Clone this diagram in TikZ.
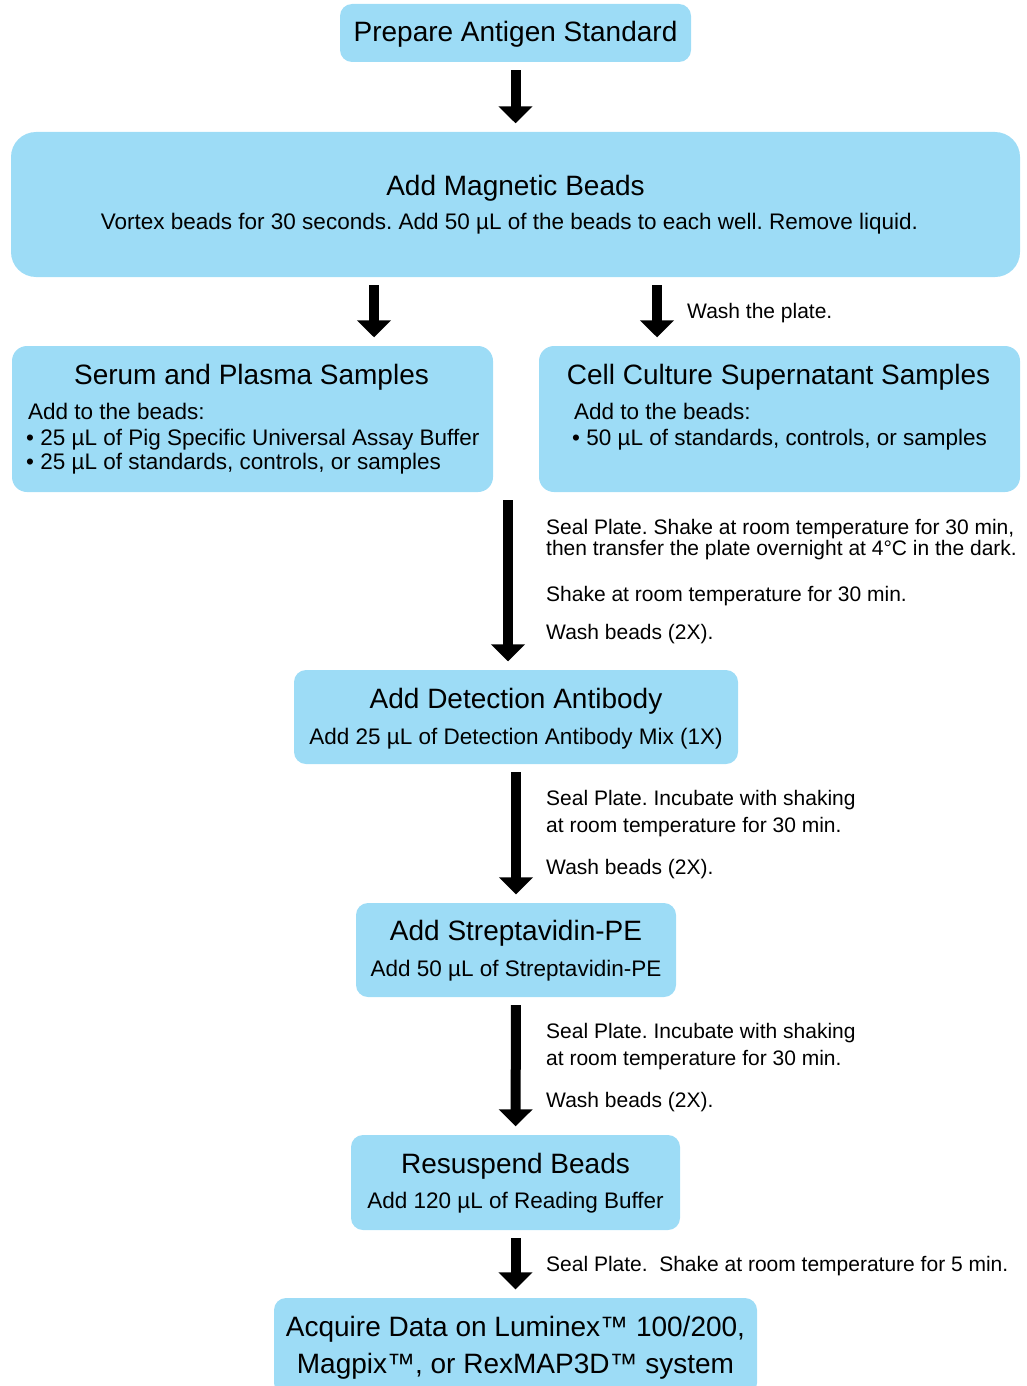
\documentclass[tikz,border=0pt]{standalone}
\usepackage{fontspec}
\setmainfont{Liberation Sans}
\usetikzlibrary{arrows.meta}
\definecolor{boxblue}{HTML}{9DDCF6}
\frenchspacing

\begin{document}
\begin{tikzpicture}[x=1pt,y=-1pt]
   \tikzset{stepbox/.style={fill=boxblue, rounded corners=12pt, inner sep=0pt}}
   \tikzset{flow/.style={line width=10pt, -{Triangle[length=17pt,width=33pt]}, shorten <=8pt, shorten >=8.5pt}}
   \tikzset{head/.style={font=\fontsize{28}{30}\selectfont, anchor=base, inner sep=0pt, yshift=-1pt}}
   \tikzset{body/.style={font=\fontsize{22.5}{25}\selectfont, anchor=base, inner sep=0pt, yshift=-1pt}}
   \tikzset{side/.style={font=\fontsize{21}{23}\selectfont, anchor=base west, inner sep=0pt, yshift=-1pt}}
   \clip (0,0) rectangle (1026,1386);
   \node[stepbox, minimum width=351pt, minimum height=58pt] (std) at (515.5,33) {};
   \node[stepbox, minimum width=1009pt, minimum height=145pt, rounded corners=25pt] (beads) at (515.5,204.5) {};
   \node[stepbox, minimum width=481pt, minimum height=146pt, rounded corners=15pt] (serum) at (252.5,419) {};
   \node[stepbox, minimum width=481pt, minimum height=146pt, rounded corners=15pt] (cell) at (779.5,419) {};
   \node[stepbox, minimum width=444pt, minimum height=94pt] (detect) at (516,717) {};
   \node[stepbox, minimum width=320pt, minimum height=94pt] (strep) at (516,950) {};
   \node[stepbox, minimum width=329pt, minimum height=95pt] (resus) at (515.5,1182.5) {};
   \node[stepbox, minimum width=483pt, minimum height=97pt] (acq) at (515.5,1346.5) {};
   \node[head] (std-t) at (515.5,41) {Prepare Antigen Standard};
   \node[head] (beads-t) at (515.5,194) {Add Magnetic Beads};
   \node[body] (beads-s) at (509.5,228) {Vortex beads for 30 seconds. Add 50 µL of the beads to each well. Remove liquid.};
   \node[head] (serum-t) at (251.5,383) {Serum and Plasma Samples};
   \node[body, anchor=base west] (serum-a) at (28,418) {Add to the beads:};
   \node[body, anchor=base west] (serum-b) at (26,444) {• 25 µL of Pig Specific Universal Assay Buffer};
   \node[body, anchor=base west] (serum-c) at (26,468) {• 25 µL of standards, controls, or samples};
   \node[head] (cell-t) at (778.5,383) {Cell Culture Supernatant Samples};
   \node[body, anchor=base west] (cell-a) at (574,418) {Add to the beads:};
   \node[body, anchor=base west] (cell-b) at (572,444) {• 50 µL of standards, controls, or samples};
   \node[head] (detect-t) at (516,707) {Add Detection Antibody};
   \node[body] (detect-s) at (516,743) {Add 25 µL of Detection Antibody Mix (1X)};
   \node[head] (strep-t) at (516,939.5) {Add Streptavidin-PE};
   \node[body] (strep-s) at (516,975) {Add 50 µL of Streptavidin-PE};
   \node[head] (resus-t) at (515.5,1172) {Resuspend Beads};
   \node[body] (resus-s) at (515.5,1207) {Add 120 µL of Reading Buffer};
   \node[head] (acq-t) at (515.5,1335) {Acquire Data on Luminex™ 100/200,};
   \node[head] (acq-u) at (515.5,1372) {Magpix™, or RexMAP3D™ system};
   \node[side] (wash-1) at (687,317) {Wash the plate.};
   \node[side] (seal-1) at (546,533) {Seal Plate. Shake at room temperature for 30 min,};
   \node[side] (seal-2) at (546,554) {then transfer the plate overnight at 4°C in the dark.};
   \node[side] (shake-1) at (546,600) {Shake at room temperature for 30 min.};
   \node[side] (wash-2) at (546,638) {Wash beads (2X).};
   \node[side] (inc-1) at (546,804.5) {Seal Plate. Incubate with shaking};
   \node[side] (inc-2) at (546,831) {at room temperature for 30 min.};
   \node[side] (wash-3) at (546,873.5) {Wash beads (2X).};
   \node[side] (inc-3) at (546,1037.5) {Seal Plate. Incubate with shaking};
   \node[side] (inc-4) at (546,1064) {at room temperature for 30 min.};
   \node[side] (wash-4) at (546,1106) {Wash beads (2X).};
   \node[side] (seal-3) at (546,1270) {Seal Plate.\hspace{0.55em}Shake at room temperature for 5 min.};
   \draw[flow] (std) -- (beads);
   \draw[flow] ([xshift=-141.5pt]beads.south) -- ([xshift=-141.5pt]beads.south |- serum.north);
   \draw[flow] ([xshift=141.5pt]beads.south) -- ([xshift=141.5pt]beads.south |- cell.north);
   \draw[flow] ([xshift=-8pt]detect.north |- cell.south) -- ([xshift=-8pt]detect.north);
   \draw[flow] (detect) -- (strep);
   \draw[flow] (strep) -- (resus);
   \draw[flow] (resus) -- (acq);
\end{tikzpicture}
\end{document}
